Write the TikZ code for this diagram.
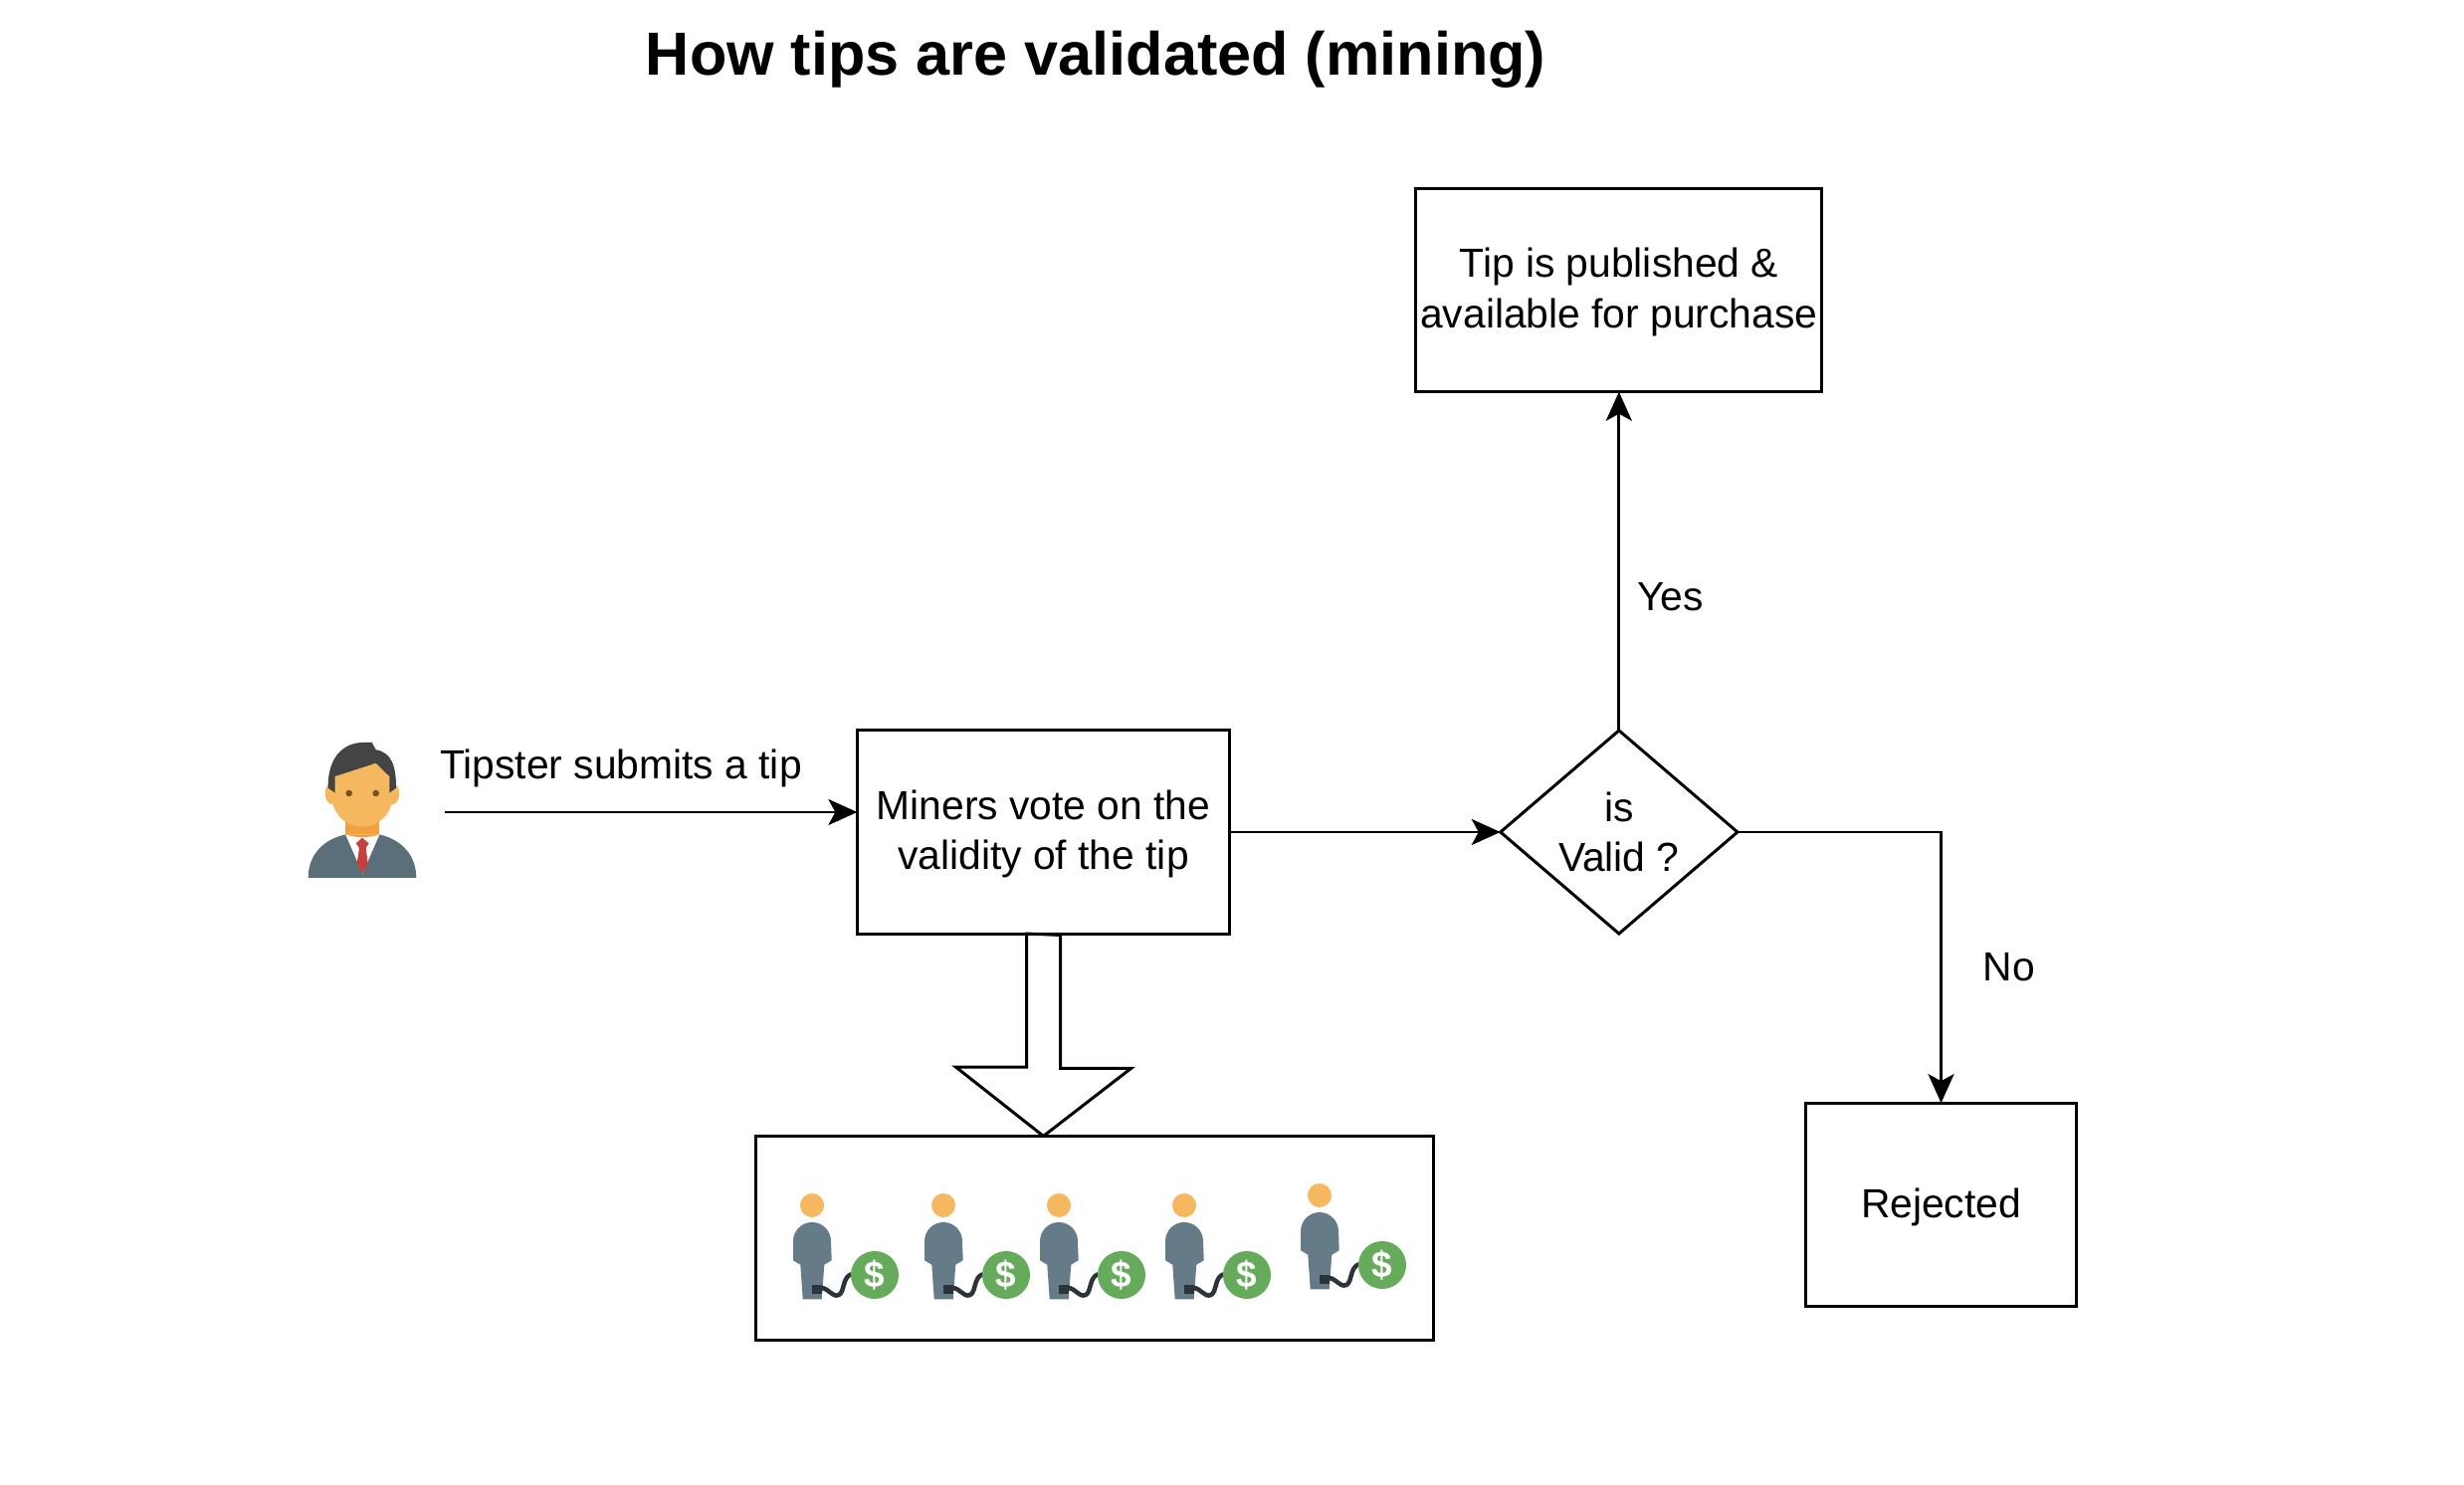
\documentclass[tikz,border=0pt]{standalone}
\usepackage{fontspec}
\setmainfont{Liberation Sans}
\usetikzlibrary{arrows.meta,positioning,shapes.geometric}

\definecolor{suit}{HTML}{5B6F7B}
\definecolor{minerbody}{HTML}{667B88}
\definecolor{skin}{HTML}{F5B85F}
\definecolor{neck}{HTML}{F2A03D}
\definecolor{hair}{HTML}{444444}
\definecolor{eye}{HTML}{7A4E22}
\definecolor{tie}{HTML}{C4403A}
\definecolor{cable}{HTML}{2B343B}
\definecolor{coin}{HTML}{66AB5C}

\newcommand{\droprow}{\rule{0pt}{11.8pt}}

\tikzset{
    tipster/.pic={
        \fill[suit] (-54.3,82) .. controls (-54.3,58) and (-38,43) .. (-17,38.5)
            -- (17.3,38.5) .. controls (38,43) and (54.3,58) .. (54.3,82) -- cycle;
        \fill[white] (-16.7,38.5) -- (17.3,38.5) -- (0.3,77.7) -- cycle;
        \fill[neck] (-16.7,15) rectangle (17.3,38.5);
        \fill[neck] (-16.7,38.5) .. controls (-6,42) and (6,42) .. (17.3,38.5) -- cycle;
        \fill[tie] (0,41.7) -- (6.7,47.3) -- (3.7,51.7) -- (5.7,68) -- (0,77.7)
            -- (-5.3,68) -- (-3,51.7) -- (-6.3,47.3) -- cycle;
        \fill[skin] (-30,-2.7) ellipse [x radius=7.3,y radius=11];
        \fill[skin] (30,-2.7) ellipse [x radius=7.3,y radius=11];
        \fill[skin] (0,0) ellipse [x radius=30.5,y radius=30.7];
        \fill[skin] (-27.3,-20) -- (13.7,-35) -- (27.3,-20) -- (30.5,0) -- (-30.5,0) -- cycle;
        \fill[hair] (-34.3,-8.3) .. controls (-35,-38) and (-20,-54) .. (1.3,-54)
            -- (9.7,-54) -- (13.7,-46.7) .. controls (30,-44) and (34,-30) .. (34,-8.3)
            -- (27.3,-3.3) -- (27.3,-20) -- (13.7,-33.3) -- (-27.3,-20) -- (-27.3,-3.3) -- cycle;
        \fill[eye] (-13.3,-3) circle (3.3);
        \fill[eye] (13.7,-3) circle (3.3);
    },
    miner/.pic={
        \fill[skin] (0,0) circle (12);
        \fill[minerbody] (-19,36) arc (180:360:19) -- (19.7,55.3) -- (12.3,59.7) -- (9.7,94.3)
            -- (-9.3,94.3) -- (-11.7,59.7) -- (-19,55.3) -- cycle;
        \fill[cable] (0,79.7) rectangle (9.7,89);
        \draw[cable,line width=0.45mm] (9,83) .. controls (17,83) and (20,93) .. (27,90)
            .. controls (33,87) and (30,72) .. (40,69);
        \node[circle,fill=coin,minimum size=0.48cm,inner sep=0,text=white,
            font=\fontsize{10.5}{11}\selectfont\bfseries] (-coin) at (63,70) {\$};
    }
}

\begin{document}
\begin{tikzpicture}[x=0.01cm,y=-0.01cm,on grid,line width=0.85pt,
    >={Stealth[length=2.9mm,width=2.6mm,inset=0.7mm]},
    font=\fontsize{11.6}{14.4}\selectfont,
    flowbox/.style={draw,align=center,inner sep=0,outer sep=0,minimum height=2.04cm},
    onerow/.style={execute at begin node={\rule{0pt}{10.1pt}}},
    decision/.style={draw,diamond,align=center,inner sep=0,outer sep=0,aspect=1.17,
        minimum width=2.38cm,minimum height=2.04cm}]
    \useasboundingbox (0,0) rectangle (2476,1492);

    \node (heading) at (1101,60) {\fontsize{17.4}{20}\selectfont\bfseries How tips are validated (mining)};

    \node[flowbox,minimum width=3.74cm] (miners) at (1048.5,836) {\droprow Miners vote on the\\validity of the tip\\[-9.7pt]};
    \node[decision] (valid) [right=5.78cm of miners] {is\\Valid ?};
    \node[flowbox,minimum width=4.08cm] (published) [above=5.44cm of valid] {\droprow Tip is published \&\\available for purchase\\[-9.7pt]};
    \node[flowbox,onerow,minimum width=2.71cm] (rejected) [below right=3.74cm and 3.235cm of valid] {Rejected};
    \node[flowbox,minimum width=6.8cm,minimum height=2.05cm] (crowd) at (1100,1244) {};

    \pic (tipster) at (364,800) {tipster};
    \foreach \i/\x/\y in {1/816/1211,2/948/1211,3/1064/1211,4/1190/1211,5/1326/1201}
        \pic (miner\i) at (\x,\y) {miner};

    \coordinate (submit) at (447,816);
    \coordinate (arrive) at (miners.west |- submit);
    \node (submitlabel) at (624,772) {Tipster submits a tip};

    \draw[->] (submit) -- (arrive);
    \draw[->] (miners) -- (valid);
    \draw[->] (valid) -- node[pos=.395,right=0.05cm] (yes) {Yes} (published);
    \draw[->] (valid) -| node[pos=.75,right=0.29cm] (no) {No} (rejected);

    \draw (miners.south) ++(-17,0) -- ++(0,134) -- ++(-71,0) -- (crowd.north -| miners.south)
        -- ++(88,-68) -- ++(-71,0) -- ++(0,-134) -- cycle;
\end{tikzpicture}
\end{document}
